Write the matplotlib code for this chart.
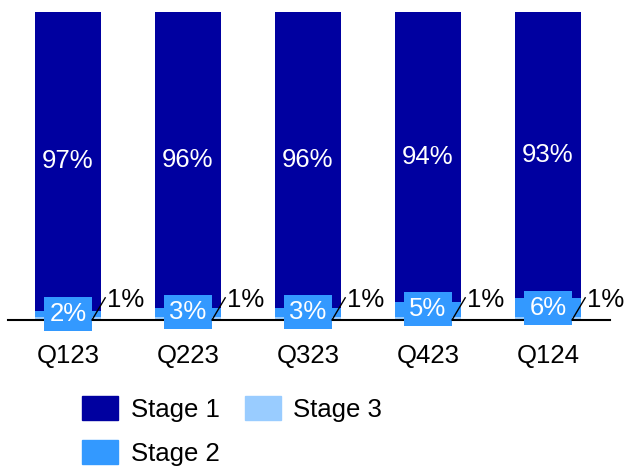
import matplotlib
matplotlib.use("Agg")
import matplotlib.pyplot as plt
from matplotlib.patches import Patch

categories = ["Q123", "Q223", "Q323", "Q423", "Q124"]
stage1 = [97, 96, 96, 94, 93]
stage2 = [2, 3, 3, 5, 6]
stage3 = [1, 1, 1, 1, 1]

c1, c2, c3 = "#0000A0", "#3399FF", "#99CCFF"

plt.rcParams["font.family"] = ["Liberation Sans", "DejaVu Sans"]
fs = 18.5

fig = plt.figure(figsize=(6.26, 4.69), dpi=100)
W, H = 626, 469
ax = fig.add_axes([8 / W, 149 / H, 602 / W, 308 / H])

x = list(range(len(categories)))
bw = 0.55
b3 = ax.bar(x, stage3, width=bw, color=c3, linewidth=0)
b2 = ax.bar(x, stage2, width=bw, bottom=stage3, color=c2, linewidth=0)
bot1 = [a + b for a, b in zip(stage3, stage2)]
b1 = ax.bar(x, stage1, width=bw, bottom=bot1, color=c1, linewidth=0)

for i in x:
    # stage 1 label
    ax.text(i, bot1[i] + stage1[i] / 2, f"{stage1[i]}%", color="white",
            ha="center", va="center", fontsize=fs)
    # stage 2 label with box
    ax.text(i, stage3[i] + stage2[i] / 2, f"{stage2[i]}%", color="white",
            ha="center", va="center", fontsize=fs, zorder=5,
            bbox=dict(boxstyle="square,pad=0.2", fc=c2, ec="none"))
    # stage 3 label with leader line
    xr = i + bw / 2
    ax.plot([xr - 0.075, xr + 0.035], [0, 7.2], color="black", lw=1,
            zorder=6, clip_on=False)
    ax.text(xr + 0.05, 6.5, f"{stage3[i]}%", color="black",
            ha="left", va="center", fontsize=fs, zorder=6)

ax.set_xlim(-0.5, -0.5 + 602 / 120)
ax.set_ylim(0, 100)
for s in ["top", "right", "left"]:
    ax.spines[s].set_visible(False)
ax.spines["bottom"].set_linewidth(1.5)
ax.spines["bottom"].set_zorder(4)
ax.set_yticks([])
ax.set_xticks(x)
ax.set_xticklabels(categories, fontsize=fs)
ax.tick_params(axis="x", length=0, pad=17)

handles = [Patch(color=c1, label="Stage 1"), Patch(color=c2, label="Stage 2"),
           Patch(color=c3, label="Stage 3")]
fig.legend(handles=handles, loc="upper left", bbox_to_anchor=(82 / W, (H - 396) / H),
           ncol=2, frameon=False, fontsize=fs, borderpad=0, borderaxespad=0,
           handlelength=1.42, handleheight=1.08, handletextpad=0.47,
           columnspacing=0.98, labelspacing=0.7)

fig.savefig("out.png", dpi=100)
